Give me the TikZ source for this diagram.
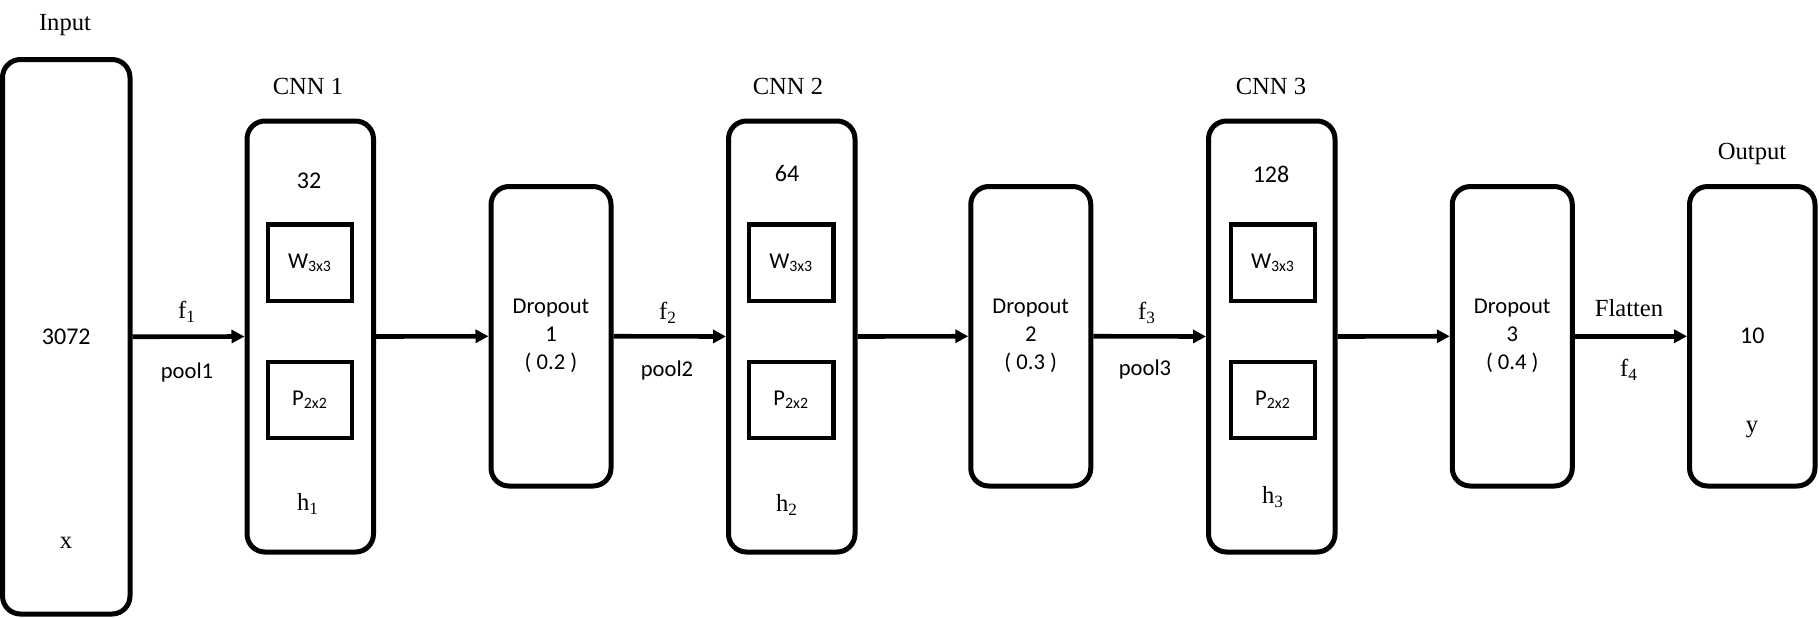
\documentclass[tikz,border=0pt]{standalone}
\usepackage{fontspec}
\setmainfont{Liberation Serif}
\newfontfamily\calibri{Carlito}
\usetikzlibrary{arrows.meta}
\begin{document}
\begin{tikzpicture}[x=0.5pt,y=-0.5pt,
  roman/.style={inner sep=0pt,font=\fontsize{12.3}{14}\selectfont},
  num/.style={inner sep=0pt,font=\calibri\fontsize{12}{14}\selectfont},
  note/.style={inner sep=0pt,align=center,font=\calibri\fontsize{11.3}{14}\selectfont},
  layer/.style={draw,line width=2.5pt,rounded corners=9pt,inner sep=0pt},
  inbox/.style={layer,minimum width=63.75pt,minimum height=277.25pt},
  cnnbox/.style={layer,minimum width=63.25pt,minimum height=215.5pt},
  dropbox/.style={layer,note,minimum width=60pt,minimum height=149.75pt},
  outbox/.style={layer,minimum width=62.75pt,minimum height=149.75pt},
  kernel/.style={draw,line width=2.1pt,inner sep=0pt,minimum width=42.25pt,minimum height=38.25pt,note},
  flow/.style={line width=2.3pt,-{Triangle[length=6.5pt,width=6.5pt]}}]
  \useasboundingbox (0,0) rectangle (1819,617);

  \node[inbox,num] (in) at (66.25,336.75) {3072};
  \node[roman] (inlbl) at (65,25) {Input};
  \node[roman] (x) at (66,543) {x};

  \node[cnnbox] (cnn1) at (310.25,336.5) {};
  \node[roman] (cnn1lbl) at (308,86) {CNN 1};
  \node[num] (n1) at (309,181) {32};
  \node[kernel] (w1) at (310,262.75) {W\textsubscript{3x3}};
  \node[kernel] (p1) at (310,400) {P\textsubscript{2x2}};
  \node[roman] (h1) at (308,504) {h\textsubscript{1}};

  \node[dropbox] (drop1) at (551,336.25) {Dropout\\1\\( 0.2 )};

  \node[cnnbox] (cnn2) at (791.75,336.5) {};
  \node[roman] (cnn2lbl) at (788,86) {CNN 2};
  \node[num] (n2) at (787,173) {64};
  \node[kernel] (w2) at (791.25,262.75) {W\textsubscript{3x3}};
  \node[kernel] (p2) at (791.25,400) {P\textsubscript{2x2}};
  \node[roman] (h2) at (787,505) {h\textsubscript{2}};

  \node[dropbox] (drop2) at (1030.75,336.25) {Dropout\\2\\( 0.3 )};

  \node[cnnbox] (cnn3) at (1271.75,336.5) {};
  \node[roman] (cnn3lbl) at (1271,86) {CNN 3};
  \node[num] (n3) at (1271,174) {128};
  \node[kernel] (w3) at (1273,262.75) {W\textsubscript{3x3}};
  \node[kernel] (p3) at (1273,400) {P\textsubscript{2x2}};
  \node[roman] (h3) at (1273,497) {h\textsubscript{3}};

  \node[dropbox] (drop3) at (1512.25,336.25) {Dropout\\3\\( 0.4 )};

  \node[outbox,num] (out) at (1752.25,336.25) {10};
  \node[roman] (outlbl) at (1752,154) {Output};
  \node[roman] (y) at (1752,429) {y};

  \draw[flow] (in.east) -- (cnn1.west);
  \draw[flow] (cnn1.east) -- (drop1.west);
  \draw[flow] (drop1.east) -- (cnn2.west);
  \draw[flow] (cnn2.east) -- (drop2.west);
  \draw[flow] (drop2.east) -- (cnn3.west);
  \draw[flow] (cnn3.east) -- (drop3.west);
  \draw[flow] (drop3.east) -- (out.west);

  \node[roman] (f1) at (187,312) {f\textsubscript{1}};
  \node[note] (pool1) at (187,372) {pool1};
  \node[roman] (f2) at (668,313) {f\textsubscript{2}};
  \node[note] (pool2) at (667,370) {pool2};
  \node[roman] (f3) at (1147,313) {f\textsubscript{3}};
  \node[note] (pool3) at (1145,369) {pool3};
  \node[roman] (flat) at (1629,308) {Flatten};
  \node[roman] (f4) at (1629,370) {f\textsubscript{4}};
\end{tikzpicture}
\end{document}
